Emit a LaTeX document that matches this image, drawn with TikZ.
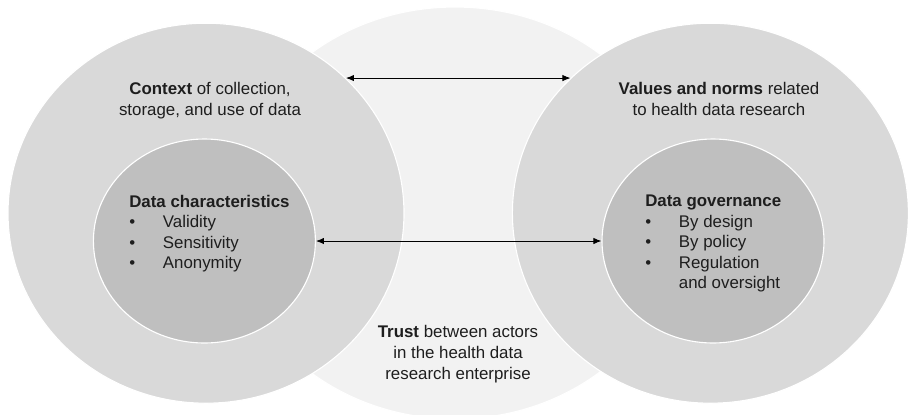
\documentclass[tikz,border=0pt]{standalone}
\usepackage{fontspec}
\setmainfont{Liberation Sans}
\usepackage{tikz}
\usetikzlibrary{positioning, shapes.geometric, arrows.meta}
\usepackage{xcolor}
\definecolor{trust-color}{RGB}{242,242,242}
\definecolor{outer-color}{RGB}{217,217,217}
\definecolor{inner-color}{RGB}{191,191,191}
\definecolor{text-color}{RGB}{30,30,30}
\newcommand{\bulletitem}{\makebox[0.84cm][l]{\textbullet}}

\begin{document}
\begin{tikzpicture}[
    ring/.style={ellipse, fill=#1, draw=white, line width=0.8pt, inner sep=0pt},
    outerring/.style={ring=outer-color, minimum width=9.9cm, minimum height=9.5cm},
    innerring/.style={ring=inner-color, minimum width=5.55cm, minimum height=5.1cm},
    link/.style={<->, >={Latex[length=2mm, width=1.6mm]}, line width=0.6pt, black},
    title/.style={font=\fontsize{12}{14.8}\selectfont, text=text-color, align=center, inner sep=0pt, anchor=north},
    itemlist/.style={font=\fontsize{12}{14.5}\selectfont, text=text-color, align=left, inner sep=0pt, anchor=north west}]

    \useasboundingbox (0,0) rectangle (22.7,-10.35);

    % Trust in the middle, behind the two rings
    \node[ring=trust-color, minimum width=11.4cm, minimum height=10.3cm] (trust) at (11.375,-5.325) {};

    % Outer rings
    \node[outerring] (ctx) at (5.15,-5.33) {};
    \node[outerring] (val) at (17.76,-5.33) {};

    % Inner rings
    \node[innerring] (dch) at (5.11,-6.025) {};
    \node[innerring] (dgv) at (17.825,-6.025) {};

    % Links between the two sides
    \draw[link] (ctx.44) -- (val.136);
    \draw[link] (dch.east) -- (dgv.west);

    % Ring labels
    \node[title] (ctxlabel) at (5.25,-2.05) {\textbf{Context} of collection,\\storage, and use of data};
    \node[title] (vallabel) at (17.975,-2.05) {\textbf{Values and norms} related\\to health data research};
    \node[title] (trustlabel) at (11.45,-8.125) {\textbf{Trust} between actors\\in the health data\\research enterprise};

    % Lists in the inner rings
    \node[itemlist] (dchlist) at (3.225,-4.875) {\textbf{Data characteristics}\\
        \bulletitem Validity\\
        \bulletitem Sensitivity\\
        \bulletitem Anonymity};
    \node[itemlist] (dgvlist) at (16.125,-4.875) {\textbf{Data governance}\\
        \bulletitem By design\\
        \bulletitem By policy\\
        \bulletitem Regulation\\
        \hspace*{0.84cm}and oversight};
\end{tikzpicture}
\end{document}
